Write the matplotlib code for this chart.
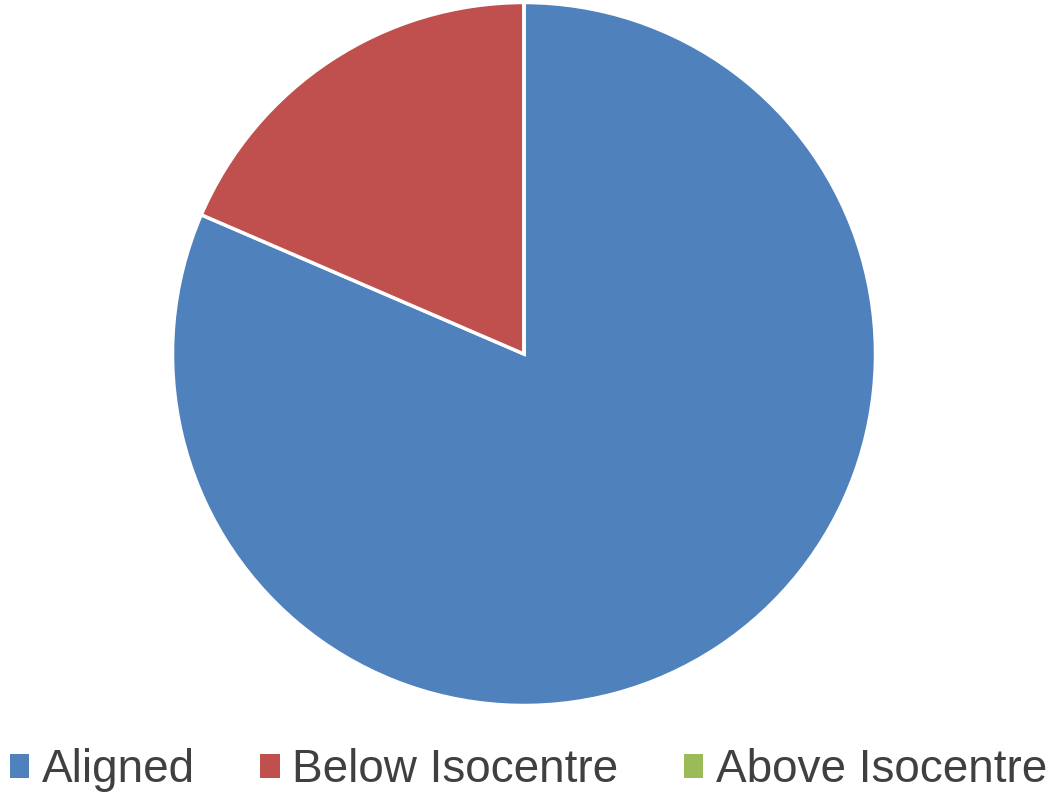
import matplotlib.pyplot as plt

labels = ["Aligned", "Below Isocentre", "Above Isocentre"]
values = [22, 5, 0]
colors = ["#4F81BD", "#C0504D", "#9BBB59"]

plt.rcParams['font.family'] = ['Liberation Sans', 'DejaVu Sans']

fig = plt.figure(figsize=(10.57, 7.93), dpi=100)
ax = fig.add_axes([172.5 / 1057, 87.5 / 793, 703 / 1057, 703 / 793])
wedges, _ = ax.pie(values, colors=colors, startangle=90, counterclock=False,
                   radius=1, wedgeprops=dict(edgecolor="white", linewidth=2.5))
ax.set_xlim(-1, 1)
ax.set_ylim(-1, 1)
ax.set_aspect("equal")
ax.axis("off")

leg = fig.legend(wedges, labels, loc="center", bbox_to_anchor=(0.5, 23 / 793),
                 ncol=3, frameon=False, fontsize=33, handlelength=0.42,
                 handleheight=0.42, handletextpad=0.28, columnspacing=1.42,
                 labelcolor="#404040")
for h in leg.legend_handles:
    h.set_edgecolor("none")

fig.savefig("out.png", dpi=100)
